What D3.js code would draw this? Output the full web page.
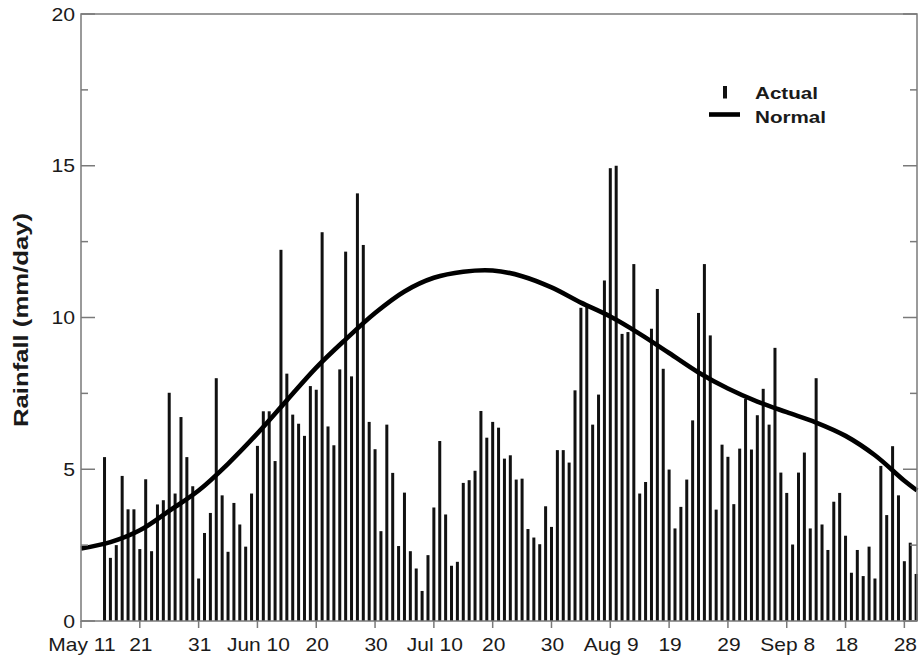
<!DOCTYPE html>
<html>
<head>
<meta charset="utf-8">
<script src="https://cdn.jsdelivr.net/npm/d3@7/dist/d3.min.js"></script>
<style>
  html, body { margin: 0; padding: 0; background: #fff; }
  svg { display: block; }
  text { font-family: "Liberation Sans", Arial, Helvetica, sans-serif; fill: #1a1a1a; }
</style>
</head>
<body>
<svg id="chart" width="920" height="660"></svg>
<script>
// Day offsets are counted from May 11.
const tickDays   = [0, 10, 20, 30, 40, 50, 60, 70, 80, 90, 100, 110, 120, 130, 140];
const tickLabels = ["May 11", "21", "31", "Jun 10", "20", "30", "Jul 10", "20", "30",
                    "Aug 9", "19", "29", "Sep 8", "18", "28"];
const yTicks     = [0, 5, 10, 15, 20];
const yMinorTicks = [2.5, 7.5, 12.5, 17.5];

// Daily actual rainfall (mm/day), one value per day starting May 15 (day 4).
const actualStartDay = 4;
const actual = [
  5.40, 2.08, 2.50, 4.78, 3.68, 3.68, 2.37, 4.67, 2.30, 3.84,
  3.98, 7.52, 4.20, 6.72, 5.40, 4.44, 1.40, 2.90, 3.56, 8.00,
  4.14, 2.28, 3.89, 3.18, 2.45, 4.20, 5.77, 6.91, 6.91, 5.27,
  12.23, 8.15, 6.80, 6.50, 6.10, 7.74, 7.62, 12.81, 6.41, 5.79,
  8.29, 12.17, 8.06, 14.09, 12.39, 6.56, 5.66, 2.96, 6.47, 4.88,
  2.47, 4.23, 2.30, 1.73, 0.99, 2.17, 3.74, 5.93, 3.51, 1.82,
  1.95, 4.55, 4.64, 4.95, 6.92, 6.04, 6.56, 6.37, 5.35, 5.46,
  4.66, 4.69, 3.03, 2.75, 2.53, 3.78, 3.10, 5.63, 5.63, 5.22,
  7.60, 10.32, 10.42, 6.47, 7.46, 11.22, 14.92, 15.00, 9.46, 9.52,
  11.76, 4.20, 4.58, 9.63, 10.94, 8.31, 4.99, 3.05, 3.76, 4.66,
  6.61, 10.15, 11.76, 9.41, 3.67, 5.81, 5.41, 3.85, 5.68, 7.32,
  5.65, 6.78, 7.65, 6.47, 9.00, 4.89, 4.22, 2.52, 4.89, 5.55,
  3.05, 8.00, 3.18, 2.34, 3.93, 4.22, 2.81, 1.59, 2.34, 1.48,
  2.45, 1.40, 5.11, 3.49, 5.76, 4.14, 1.97, 2.58, 1.55
];

// Normal (climatological) rainfall, sampled every 5 days.
const normalDays = [0, 5, 10, 15, 20, 25, 30, 35, 40, 45, 50, 55, 60, 65, 70,
                    75, 80, 85, 90, 95, 100, 105, 110, 115, 120, 125, 130, 135, 140, 142.15];
const normal = [2.39, 2.60, 2.99, 3.63, 4.30, 5.18, 6.18, 7.27, 8.35, 9.28, 10.15, 10.86, 11.31, 11.51, 11.55,
                11.36, 10.99, 10.49, 10.03, 9.46, 8.83, 8.19, 7.66, 7.23, 6.88, 6.54, 6.10, 5.46, 4.62, 4.30];

const plotLeft = 81, plotRight = 917, plotTop = 14, plotBottom = 621;
const svg = d3.select("#chart");

const x = d3.scaleLinear().domain([0, 142.15]).range([plotLeft, plotRight]);
const y = d3.scaleLinear().domain([0, 20]).range([plotBottom, plotTop]);

const axisColor = "#7a7a7a";

// Bars
const bars = actual.map((v, i) => ({ day: actualStartDay + i, value: v }));
svg.append("g")
  .selectAll("rect")
  .data(bars)
  .join("rect")
  .attr("x", d => x(d.day) - 1.5)
  .attr("width", 3)
  .attr("y", d => y(d.value))
  .attr("height", d => y(0) - y(d.value))
  .attr("fill", "#111");

// Normal curve
const line = d3.line()
  .x((d, i) => x(normalDays[i]))
  .y(d => y(d))
  .curve(d3.curveCatmullRom.alpha(0.5));
svg.append("path")
  .datum(normal)
  .attr("d", line)
  .attr("fill", "none")
  .attr("stroke", "#000")
  .attr("stroke-width", 4.6)
  .attr("stroke-linecap", "butt");

// Frame
svg.append("rect")
  .attr("x", plotLeft).attr("y", plotTop)
  .attr("width", plotRight - plotLeft).attr("height", plotBottom - plotTop)
  .attr("fill", "none").attr("stroke", axisColor).attr("stroke-width", 1.5);

// Y ticks (inward on both sides)
const yt = svg.append("g").attr("stroke", axisColor).attr("stroke-width", 1.5);
yTicks.forEach(v => {
  yt.append("line").attr("x1", plotLeft).attr("x2", plotLeft + 14).attr("y1", y(v)).attr("y2", y(v));
  yt.append("line").attr("x1", plotRight).attr("x2", plotRight - 14).attr("y1", y(v)).attr("y2", y(v));
});
yMinorTicks.forEach(v => {
  yt.append("line").attr("x1", plotLeft).attr("x2", plotLeft + 7).attr("y1", y(v)).attr("y2", y(v));
  yt.append("line").attr("x1", plotRight).attr("x2", plotRight - 7).attr("y1", y(v)).attr("y2", y(v));
});

// Y tick labels
svg.append("g").selectAll("text")
  .data(yTicks)
  .join("text")
  .attr("transform", d => `translate(75,${y(d) + 6.5}) scale(1.18,1)`)
  .attr("text-anchor", "end")
  .attr("font-size", 18)
  .text(d => d);

// X ticks (outward) and labels
const xt = svg.append("g").attr("stroke", axisColor).attr("stroke-width", 1.5);
tickDays.forEach(d => {
  xt.append("line").attr("x1", x(d)).attr("x2", x(d)).attr("y1", plotBottom).attr("y2", plotBottom + 7);
});
svg.append("g").selectAll("text")
  .data(tickDays)
  .join("text")
  .attr("transform", d => `translate(${x(d) + 1},651) scale(1.18,1)`)
  .attr("text-anchor", "middle")
  .attr("font-size", 17.8)
  .text((d, i) => tickLabels[i]);

// Y axis title
svg.append("text")
  .attr("transform", `translate(28,320) rotate(-90)`)
  .attr("text-anchor", "middle")
  .attr("font-size", 19.5)
  .attr("font-weight", "bold")
  .attr("textLength", 214)
  .attr("lengthAdjust", "spacingAndGlyphs")
  .text("Rainfall (mm/day)");

// Legend
const lg = svg.append("g");
lg.append("rect")
  .attr("x", 723).attr("y", 86).attr("width", 4).attr("height", 12.5)
  .attr("fill", "#111");
lg.append("line")
  .attr("x1", 709).attr("x2", 740).attr("y1", 114.5).attr("y2", 114.5)
  .attr("stroke", "#000").attr("stroke-width", 4.6);
lg.append("text")
  .attr("transform", "translate(755,98.5) scale(1.25,1)")
  .attr("font-size", 16.5).attr("font-weight", "bold")
  .text("Actual");
lg.append("text")
  .attr("transform", "translate(755,122.5) scale(1.25,1)")
  .attr("font-size", 16.5).attr("font-weight", "bold")
  .text("Normal");
</script>
</body>
</html>
